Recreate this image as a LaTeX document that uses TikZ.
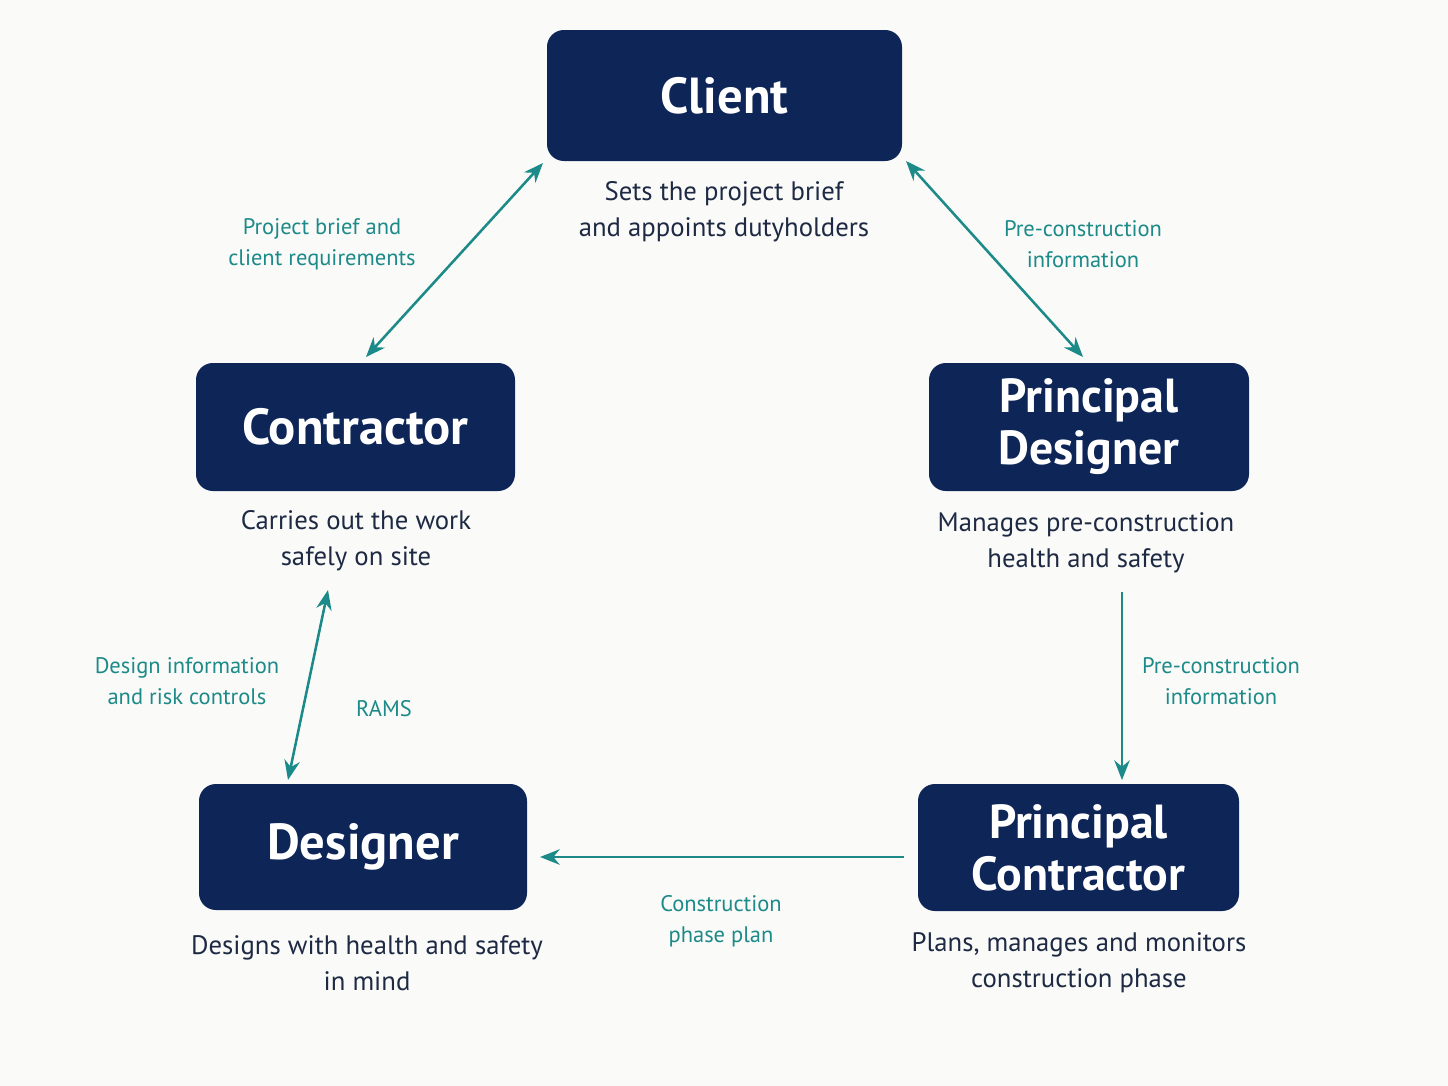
\documentclass[tikz,border=0pt]{standalone}
\usepackage{fontspec}
\setmainfont{PT Sans}
\usetikzlibrary{arrows.meta}
\definecolor{navy}{HTML}{0E2558}
\definecolor{teal}{HTML}{1C8A88}
\definecolor{txt}{HTML}{1E2A44}
\definecolor{bg}{HTML}{FAFAF8}
\begin{document}
\begin{tikzpicture}[x=0.025cm,y=-0.025cm,
 box/.style={fill=navy,rounded corners=12pt,text=white,font=\bfseries\fontsize{36}{36}\selectfont,align=center,inner sep=0pt},
 desc/.style={text=txt,font=\fontsize{19}{25.5}\selectfont,align=center},
 lab/.style={text=teal,font=\fontsize{16}{22}\selectfont,align=center},
 arr/.style={draw=teal,line width=1.8pt,-{Stealth[length=14pt,width=11pt]}},
 darr/.style={arr,{Stealth[length=14pt,width=11pt]}-{Stealth[length=14pt,width=11pt]}}]
\fill[bg] (0,0) rectangle (1448,1086);
\node[box,minimum width=355*0.025cm,minimum height=131*0.025cm] (client) at (724.5,95.5) {Client};
\node[box,minimum width=319*0.025cm,minimum height=128*0.025cm] (con) at (355.5,427) {Contractor};
\node[box,minimum width=320*0.025cm,minimum height=128*0.025cm,font=\bfseries\fontsize{34}{37}\selectfont] (pd) at (1089,427) {Principal\\Designer};
\node[box,minimum width=328*0.025cm,minimum height=126*0.025cm] (des) at (363,847) {Designer};
\node[box,minimum width=321*0.025cm,minimum height=127*0.025cm,font=\bfseries\fontsize{34}{37}\selectfont] (pc) at (1078.5,847.5) {Principal\\Contractor};
\node[desc] (dclient) at (724,212) {Sets the project brief\\and appoints dutyholders};
\node[desc] (dcon) at (356,541) {Carries out the work\\safely on site};
\node[desc] (dpd) at (1086,543) {Manages pre-construction\\health and safety};
\node[desc] (ddes) at (367,963) {Designs with health and safety\\in mind};
\node[desc] (dpc) at (1079,963) {Plans, manages and monitors\\construction phase};
\node[lab] (l1) at (322,244) {Project brief and\\client requirements};
\node[lab] (l2) at (1083,244) {Pre-construction\\information};
\node[lab] (l3) at (1221,681) {Pre-construction\\information};
\node[lab] (l4) at (187,681) {Design information\\and risk controls};
\node[lab] (l5) at (384,709) {RAMS};
\node[lab] (l6) at (721,921) {Construction\\phase plan};
\coordinate (a1) at (543,163); \coordinate (b1) at (366,357);
\coordinate (a2) at (906,161); \coordinate (b2) at (1083,357);
\coordinate (a3) at (1122,592); \coordinate (b3) at (1122,780);
\coordinate (a4) at (904,857); \coordinate (b4) at (540,857);
\coordinate (a5) at (328,590); \coordinate (b5) at (288,780);
\draw[darr] (a1) -- (b1);
\draw[darr] (a2) -- (b2);
\draw[arr] (a3) -- (b3);
\draw[arr] (a4) -- (b4);
\draw[darr] (a5) -- (b5);
\end{tikzpicture}
\end{document}
